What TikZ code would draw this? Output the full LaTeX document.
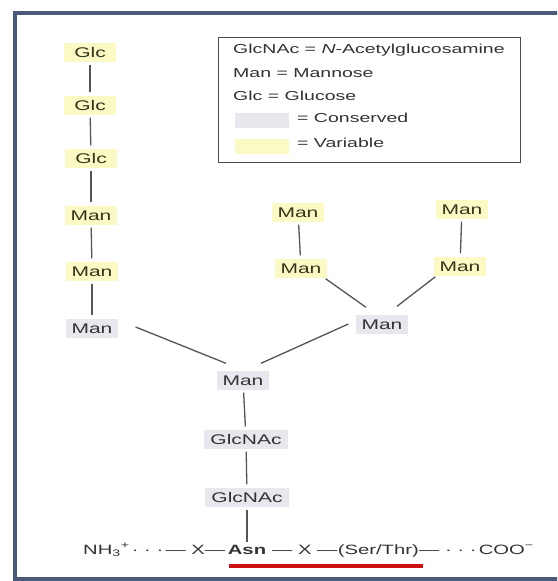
\documentclass[tikz,border=0pt]{standalone}
\usepackage{fontspec}
\setmainfont{Liberation Sans}[FakeStretch=1.5]
\usetikzlibrary{calc}
\definecolor{framec}{HTML}{4A5A78}
\definecolor{varfill}{HTML}{FBF9C4}
\definecolor{consfill}{HTML}{E6E8EE}
\definecolor{vartext}{HTML}{34341A}
\definecolor{constext}{HTML}{333333}
\definecolor{linkc}{HTML}{555555}
\definecolor{redline}{HTML}{D01010}
\begin{document}
\begin{tikzpicture}[x=1pt,y=-1pt,
  every node/.style={font=\fontsize{13}{15}\selectfont},
  sugar/.style={font=\fontsize{14}{16}\selectfont, inner xsep=6pt, inner ysep=0pt, minimum height=19pt, minimum width=52pt, text height=10pt, text depth=0pt},
  var/.style={sugar, fill=varfill, text=vartext},
  cons/.style={sugar, fill=consfill, text=constext},
  link/.style={draw=linkc, line width=1.3pt},
  vlink/.style={link, shorten <=3pt, shorten >=3pt},
  legtext/.style={anchor=west, inner sep=0pt, text=black!80},
  pep/.style={inner sep=0pt, text=black!80, font=\fontsize{13.5}{16}\selectfont},
  swatch/.style={inner sep=0pt, minimum width=54pt, minimum height=15pt, anchor=west},
]
\useasboundingbox (0,0) rectangle (557,581);
\clip (0,0) rectangle (557,581);
\fill[white] (0,0) rectangle (557,581);
\draw[framec, line width=4pt] (570,12.5) -- (15,12.5) -- (15,579) -- (570,579);

% legend
\node[draw=black!70, line width=0.8pt, minimum width=302pt, minimum height=125pt, anchor=north west, inner sep=0pt] (leg) at (218,37) {};
\node[legtext] (l1) at (233,50) {GlcNAc = \textit{N}-Acetylglucosamine};
\node[legtext] (l2) at (233,73) {Man = Mannose};
\node[legtext] (l3) at (233,96) {Glc = Glucose};
\node[swatch, fill=consfill] (s1) at (235,120) {};
\node[legtext] (l4) at (297,118) {= Conserved};
\node[swatch, fill=varfill] (s2) at (235,146) {};
\node[legtext] (l5) at (297,143) {= Variable};

% sugars
\node[var] (g1) at (90,52) {Glc};
\node[var] (g2) at (90,105) {Glc};
\node[var] (g3) at (91,158) {Glc};
\node[var] (m1) at (91,215) {Man};
\node[var] (m2) at (92,271) {Man};
\node[cons] (m3) at (92,328) {Man};
\node[var] (r1) at (298,212) {Man};
\node[var] (r2) at (301,268) {Man};
\node[var] (r3) at (462,209) {Man};
\node[var] (r4) at (460,266) {Man};
\node[cons] (rc) at (382,324) {Man};
\node[cons] (c) at (243,380) {Man};
\node[cons] (n1) at (246,439) {GlcNAc};
\node[cons] (n2) at (247,497) {GlcNAc};

% peptide (baseline y = 554)
\node[pep, anchor=base, font=\fontsize{13.5}{16}\selectfont\bfseries] (asn) at (247,554) {Asn};
\node[pep, anchor=base east] (pl) at (asn.base west) {NH\textsubscript{3}\textsuperscript{+}\,· · ·\,— X—\,};
\node[pep, anchor=base west] (px) at (asn.base east) {\ — X —};
\node[pep, anchor=base west] (st) at (px.base east) {(Ser/Thr)};
\node[pep, anchor=base west] (pt) at (st.base east) {— · · ·\,COO\textsuperscript{−}};
\draw[redline, line width=4.5pt] ($(asn.base west)+(1,12)$) -- ($(st.base east)+(4,12)$);

% links
\draw[vlink] (g1) -- (g2);
\draw[vlink] (g2) -- (g3);
\draw[vlink] (g3) -- (m1);
\draw[vlink] (m1) -- (m2);
\draw[vlink] (m2) -- (m3);
\draw[vlink] (r1) -- (r2);
\draw[vlink] (r3) -- (r4);
\draw[vlink] (c) -- (n1);
\draw[vlink] (n1) -- (n2);
\draw[vlink] (n2) -- (asn);
\draw[link] ($(m3.east)+(17,-1)$) -- ($(c.north)+(-17,-7)$);
\draw[link] ($(rc.west)+(-7,0)$) -- ($(c.north)+(18,-7)$);
\draw[link] ($(r2.south east)+(-2,1)$) -- ($(rc.north)+(-16,-7)$);
\draw[link] ($(r4.south west)+(2,1)$) -- ($(rc.north)+(15,-8)$);
\end{tikzpicture}
\end{document}
